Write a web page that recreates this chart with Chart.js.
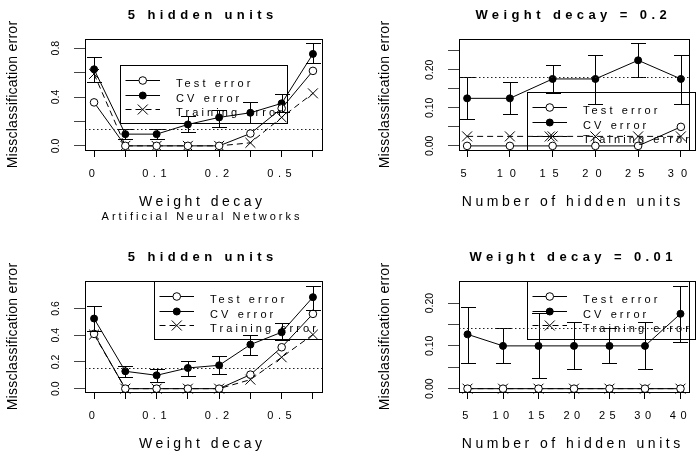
<!DOCTYPE html>
<html>
<head>
<meta charset="utf-8">
<script src="https://cdn.jsdelivr.net/npm/chart.js@4.4.1/dist/chart.umd.min.js"></script>
<style>
  body { margin: 0; background: #fff; width: 697px; height: 458px; position: relative; overflow: hidden; }
  canvas { position: absolute; }
</style>
</head>
<body>
<canvas id="p1" width="347" height="228" style="left:0;top:0"></canvas>
<canvas id="p2" width="350" height="228" style="left:347px;top:0"></canvas>
<canvas id="p3" width="347" height="230" style="left:0;top:228px"></canvas>
<canvas id="p4" width="350" height="230" style="left:347px;top:228px"></canvas>
<script>
const decayLevels = ['0', '0.05', '0.1', '0.15', '0.2', '0.3', '0.5', '1'];
const decayShown = ['0', '0.1', '0.2', '0.5'];
const unitsTop = ['5', '10', '15', '20', '25', '30'];
const unitsBottom = ['5', '10', '15', '20', '25', '30', '40'];
const legendLabels = ['Test error', 'CV error', 'Training error'];

// top left: 5 hidden units, weight decay varied
const testTL = [0.356, 0, 0, 0, 0, 0.101, 0.307, 0.614];
const cvTL = [0.627, 0.096, 0.096, 0.175, 0.233, 0.271, 0.348, 0.753];
const cvLowTL = [0.526, 0.06, 0.06, 0.115, 0.156, 0.184, 0.279, 0.677];
const cvHighTL = [0.726, 0.142, 0.142, 0.244, 0.293, 0.362, 0.425, 0.841];
const trainTL = [0.589, 0, 0, 0, 0, 0.025, 0.233, 0.43];
const refTL = 0.142;
const yTicksTL = [0, 0.2, 0.4, 0.6, 0.8];
const yLabelsTL = ['0.0', '', '0.4', '', '0.8'];

// top right: weight decay 0.2, hidden units varied
const testTR = [0, 0, 0, 0, 0, 0.05];
const cvTR = [0.125, 0.125, 0.176, 0.176, 0.225, 0.176];
const cvLowTR = [0.07, 0.083, 0.138, 0.109, 0.181, 0.109];
const cvHighTR = [0.181, 0.167, 0.213, 0.24, 0.27, 0.24];
const trainTR = [0.025, 0.025, 0.025, 0.025, 0.025, 0.025];
const refTR = 0.181;
const yTicksTR = [0, 0.05, 0.1, 0.15, 0.2, 0.25];
const yLabelsTR = ['0.00', '', '0.10', '', '0.20', ''];

// bottom left: 5 hidden units, weight decay varied
const testBL = [0.41, 0, 0, 0, 0, 0.105, 0.31, 0.56];
const cvBL = [0.525, 0.13, 0.1, 0.155, 0.175, 0.33, 0.4225, 0.685];
const cvLowBL = [0.43, 0.085, 0.0475, 0.0925, 0.1125, 0.25, 0.3625, 0.5925];
const cvHighBL = [0.6175, 0.1675, 0.15, 0.21, 0.2425, 0.4, 0.4925, 0.7675];
const trainBL = [0.405, 0, 0, 0, 0, 0.0675, 0.235, 0.405];
const refBL = 0.155;
const yTicksBL = [0, 0.2, 0.4, 0.6];
const yLabelsBL = ['0.0', '0.2', '0.4', '0.6'];

// bottom right: weight decay 0.01, hidden units varied
const testBR = [0, 0, 0, 0, 0, 0, 0];
const cvBR = [0.127, 0.1, 0.1, 0.1, 0.1, 0.1, 0.175];
const cvLowBR = [0.059, 0.059, 0.025, 0.046, 0.059, 0.046, 0.109];
const cvHighBR = [0.19, 0.142, 0.176, 0.155, 0.142, 0.155, 0.24];
const trainBR = [0, 0, 0, 0, 0, 0, 0];
const refBR = 0.142;
const yTicksBR = [0, 0.05, 0.1, 0.15, 0.2];
const yLabelsBR = ['0.00', '', '0.10', '', '0.20'];

const FONT = '"Liberation Sans", Arial, Helvetica, sans-serif';
Chart.defaults.font.family = FONT;

function spacedText(ctx, text, x, y, font, spacing, align) {
  ctx.save();
  ctx.font = font;
  ctx.letterSpacing = spacing + 'px';
  ctx.textAlign = 'left';
  ctx.textBaseline = 'alphabetic';
  const w = ctx.measureText(text).width - spacing;
  ctx.fillStyle = '#000';
  ctx.fillText(text, align === 'center' ? x - w / 2 : x, y);
  ctx.restore();
}

function marker(ctx, kind, x, y) {
  ctx.beginPath();
  if (kind === 'cross') {
    const d = 5;
    ctx.moveTo(x - d, y - d); ctx.lineTo(x + d, y + d);
    ctx.moveTo(x - d, y + d); ctx.lineTo(x + d, y - d);
  } else {
    ctx.arc(x, y, kind === 'open' ? 3.8 : 3.5, 0, Math.PI * 2);
    ctx.fillStyle = kind === 'open' ? '#fff' : '#000';
    ctx.fill();
  }
  ctx.stroke();
}

function makePanel(id, p) {
  const canvas = document.getElementById(id);
  const W = canvas.width, H = canvas.height;
  const a = p.area;
  const pts = arr => arr.map((v, i) => ({x: i, y: v}));
  const crisp = v => Math.round(v) + 0.5;

  const decor = {
    id: 'decor',
    beforeDraw(chart) {
      // R's wide letter spacing on the x tick labels
      chart.ctx.letterSpacing = p.tickSpacing + 'px';
    },
    afterDatasetsDraw(chart) {
      const {ctx, chartArea, scales: {x, y}} = chart;
      ctx.save();
      ctx.strokeStyle = '#000';
      ctx.lineWidth = 1;
      p.cvLow.forEach((lo, i) => {
        const px = crisp(x.getPixelForValue(i));
        const y0 = crisp(y.getPixelForValue(lo));
        const y1 = crisp(y.getPixelForValue(p.cvHigh[i]));
        ctx.beginPath();
        ctx.moveTo(px, y0); ctx.lineTo(px, y1);
        ctx.moveTo(px - 7.5, y0); ctx.lineTo(px + 7.5, y0);
        ctx.moveTo(px - 7.5, y1); ctx.lineTo(px + 7.5, y1);
        ctx.stroke();
      });
      const ry = crisp(y.getPixelForValue(p.ref));
      ctx.strokeStyle = '#222';
      ctx.setLineDash([1.5, 2.5]);
      ctx.beginPath();
      ctx.moveTo(chartArea.left, ry);
      ctx.lineTo(chartArea.right, ry);
      ctx.stroke();
      ctx.restore();
    },
    afterDraw(chart) {
      const {ctx, chartArea: ca, scales: {y}} = chart;
      ctx.save();
      ctx.letterSpacing = '0px';
      ctx.strokeStyle = '#000';
      ctx.lineWidth = 1;
      ctx.strokeRect(crisp(ca.left), crisp(ca.top), Math.round(ca.right - ca.left), Math.round(ca.bottom - ca.top));

      const cx = (ca.left + ca.right) / 2 - 3;
      spacedText(ctx, p.title, cx, ca.top - 20.3, 'bold 13px ' + FONT, 4.4, 'center');
      spacedText(ctx, p.xTitle, cx, ca.bottom + 55.5, '14px ' + FONT, 3.5, 'center');
      if (p.sub) spacedText(ctx, p.sub, cx, ca.bottom + 70, '11px ' + FONT, 3, 'center');

      // y tick labels, parallel to the axis
      ctx.font = '10.5px ' + FONT;
      ctx.textAlign = 'center';
      ctx.textBaseline = 'middle';
      ctx.fillStyle = '#000';
      p.yTicks.forEach((v, i) => {
        if (!p.yLabels[i]) return;
        ctx.save();
        ctx.translate(ca.left - 28.5, y.getPixelForValue(v));
        ctx.rotate(-Math.PI / 2);
        ctx.fillText(p.yLabels[i], 0, 0);
        ctx.restore();
      });

      ctx.save();
      ctx.font = '14px ' + FONT;
      ctx.letterSpacing = '0.25px';
      ctx.translate(p.yTitleX, (ca.top + ca.bottom) / 2);
      ctx.rotate(-Math.PI / 2);
      ctx.fillText('Missclassification error', 0, 0);
      ctx.restore();

      const lg = p.legend;
      ctx.strokeRect(crisp(lg.left), crisp(lg.top), Math.round(lg.right - lg.left), Math.round(lg.bottom - lg.top));
      const kinds = ['open', 'filled', 'cross'];
      legendLabels.forEach((txt, i) => {
        const sy = Math.round(lg.top + 15 + i * 14.5) + 0.5;
        const x0 = lg.left + 5.5, x1 = lg.left + 40;
        ctx.setLineDash(i === 2 ? [6, 4] : []);
        ctx.beginPath();
        ctx.moveTo(x0, sy); ctx.lineTo(x1, sy);
        ctx.stroke();
        ctx.setLineDash([]);
        marker(ctx, kinds[i], (x0 + x1) / 2, sy);
        spacedText(ctx, txt, lg.left + 56, sy + 6, '11px ' + FONT, 3.1, 'left');
      });
      ctx.restore();
    }
  };

  const line = {borderColor: '#000', borderWidth: 1, pointBorderColor: '#000', pointBorderWidth: 1, tension: 0, clip: false};

  new Chart(canvas, {
    type: 'line',
    data: {
      datasets: [
        {...line, label: legendLabels[0], data: pts(p.test), pointStyle: 'circle', pointRadius: 3.8, pointBackgroundColor: '#fff'},
        {...line, label: legendLabels[1], data: pts(p.cv), pointStyle: 'circle', pointRadius: 3.5, pointBackgroundColor: '#000'},
        {...line, label: legendLabels[2], data: pts(p.train), borderDash: [6, 4], pointStyle: 'crossRot', pointRadius: 7}
      ]
    },
    options: {
      responsive: false,
      animation: false,
      events: [],
      layout: {padding: {left: 0, top: a.top, right: W - a.right, bottom: 0}},
      plugins: {legend: {display: false}, tooltip: {enabled: false}},
      scales: {
        x: {
          type: 'linear',
          min: p.xMin,
          max: p.xMax,
          afterBuildTicks: s => { s.ticks = p.labels.map((_, i) => ({value: i})); },
          afterFit: s => { s.height = H - a.bottom; s.paddingLeft = 0; s.paddingRight = 0; },
          ticks: {
            autoSkip: false,
            maxRotation: 0,
            padding: 10,
            color: '#000',
            font: {size: 11},
            callback: v => (p.shown.includes(p.labels[v]) ? p.labels[v] : '')
          },
          grid: {drawOnChartArea: false, tickLength: 7, tickColor: '#000'},
          border: {display: false}
        },
        y: {
          type: 'linear',
          min: p.yMin,
          max: p.yMax,
          afterBuildTicks: s => { s.ticks = p.yTicks.map(v => ({value: v})); },
          afterFit: s => { s.width = a.left; s.paddingTop = 0; s.paddingBottom = 0; },
          ticks: {display: false},
          grid: {drawOnChartArea: false, tickLength: 11, tickColor: '#444'},
          border: {display: false}
        }
      }
    },
    plugins: [decor]
  });
}

makePanel('p1', {
  labels: decayLevels, shown: decayShown,
  test: testTL, cv: cvTL, cvLow: cvLowTL, cvHigh: cvHighTL, train: trainTL, ref: refTL,
  yTicks: yTicksTL, yLabels: yLabelsTL,
  title: '5 hidden units', xTitle: 'Weight decay', sub: 'Artificial Neural Networks',
  area: {left: 85, top: 39, right: 322, bottom: 150},
  xMin: -0.29, xMax: 7.29, yMin: -0.034, yMax: 0.875,
  legend: {left: 120, top: 65, right: 287, bottom: 123},
  yTitleX: 12.8, tickSpacing: 4.5
});

makePanel('p2', {
  labels: unitsTop, shown: unitsTop,
  test: testTR, cv: cvTR, cvLow: cvLowTR, cvHigh: cvHighTR, train: trainTR, ref: refTR,
  yTicks: yTicksTR, yLabels: yLabelsTR,
  title: 'Weight decay = 0.2', xTitle: 'Number of hidden units',
  area: {left: 112, top: 39, right: 348, bottom: 150},
  xMin: -0.19, xMax: 5.19, yMin: -0.0108, yMax: 0.281,
  legend: {left: 180, top: 92, right: 348, bottom: 150},
  yTitleX: 37.7, tickSpacing: 7
});

makePanel('p3', {
  labels: decayLevels, shown: decayShown,
  test: testBL, cv: cvBL, cvLow: cvLowBL, cvHigh: cvHighBL, train: trainBL, ref: refBL,
  yTicks: yTicksBL, yLabels: yLabelsBL,
  title: '5 hidden units', xTitle: 'Weight decay',
  area: {left: 85, top: 53, right: 322, bottom: 164},
  xMin: -0.29, xMax: 7.29, yMin: -0.025, yMax: 0.806,
  legend: {left: 154, top: 53, right: 322, bottom: 111},
  yTitleX: 12.8, tickSpacing: 4.5
});

makePanel('p4', {
  labels: unitsBottom, shown: unitsBottom,
  test: testBR, cv: cvBR, cvLow: cvLowBR, cvHigh: cvHighBR, train: trainBR, ref: refBR,
  yTicks: yTicksBR, yLabels: yLabelsBR,
  title: 'Weight decay = 0.01', xTitle: 'Number of hidden units',
  area: {left: 112, top: 53, right: 348, bottom: 164},
  xMin: -0.24, xMax: 6.24, yMin: -0.0078, yMax: 0.2517,
  legend: {left: 180, top: 53, right: 348, bottom: 111},
  yTitleX: 38, tickSpacing: 4.5
});
</script>
</body>
</html>
